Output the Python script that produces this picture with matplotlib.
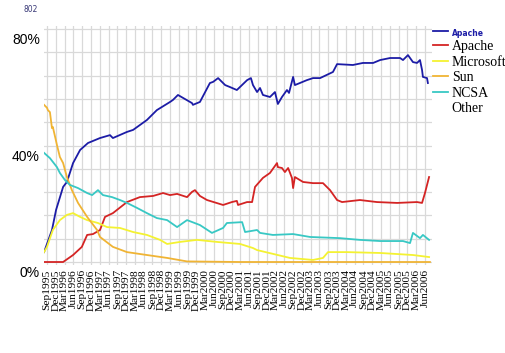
import matplotlib
matplotlib.use("Agg")
import matplotlib.pyplot as plt
from matplotlib.lines import Line2D

#======================================================
# 데이터 (x = Sep1995 부터의 개월 수, y = 점유율 %)
#======================================================
quarter_labels = ["Sep1995", "Dec1995", "Mar1996", "Jun1996", "Sep1996", "Dec1996",
                  "Mar1997", "Jun1997", "Sep1997", "Dec1997", "Mar1998", "Jun1998",
                  "Sep1998", "Dec1998", "Mar1999", "Jun1999", "Sep1999", "Dec1999",
                  "Mar2000", "Jun2000", "Sep2000", "Dec2000", "Mar2001", "Jun2001",
                  "Sep2001", "Dec2001", "Mar2002", "Jun2002", "Sep2002", "Dec2002",
                  "Mar2003", "Jun2003", "Sep2003", "Dec2003", "Mar2004", "Jun2004",
                  "Sep2004", "Dec2004", "Mar2005", "Jun2005", "Sep2005", "Dec2005",
                  "Mar2006", "Jun2006"]
quarter_pos = [3 * i for i in range(len(quarter_labels))]

blue_x = [-1, 1.7, 3.1, 5.5, 6.8, 8.9, 11.3, 14.0, 18.1, 21.5, 22.5, 27.3, 29.4, 34.1,
          37.5, 42.0, 43.0, 44.7, 49.5, 49.8, 52.2, 55.6, 56.7, 58.4, 60.8, 62.5, 64.8,
          68.3, 69.6, 70.3, 71.7, 72.7, 73.7, 76.1, 77.8, 78.8, 80.2, 81.9, 82.6, 84.0,
          84.6, 86.3, 88.7, 90.8, 93.2, 97.6, 99.0, 104.4, 107.8, 111.3, 113.7, 117.1,
          120.5, 121.5, 123.2, 124.9, 126.3, 127.3, 128.0, 128.3, 129.7, 130.0]
blue_y = [3.4, 11.0, 17.9, 25.8, 27.5, 34.0, 38.5, 40.9, 42.6, 43.6, 42.6, 44.7, 45.4, 48.8,
          52.2, 55.0, 55.7, 57.4, 54.6, 54.0, 55.0, 61.5, 61.9, 63.2, 60.8, 60.1, 59.1,
          62.5, 63.2, 60.8, 58.4, 59.8, 57.4, 56.7, 58.4, 54.3, 56.7, 59.1, 58.1, 63.6,
          60.8, 61.5, 62.5, 63.2, 63.2, 65.3, 68.0, 67.7, 68.4, 68.4, 69.4, 70.1,
          70.1, 69.4, 71.1, 68.7, 68.4, 69.4, 66.0, 63.6, 63.2, 61.5]

red_x = [-1, 5.5, 8.9, 11.9, 13.7, 15.7, 18.1, 19.8, 22.5, 27.3, 31.7, 36.2, 39.6, 42.0,
         44.4, 47.8, 49.5, 50.5, 52.2, 54.6, 60.1, 63.1, 64.8, 65.2, 68.3, 70.0, 71.0,
         73.7, 76.1, 78.5, 78.8, 80.2, 81.2, 82.3, 83.6, 84.0, 84.6, 87.4, 90.8, 94.2,
         96.6, 99.0, 100.7, 106.8, 112.6, 119.5, 126.3, 128.0, 129.0, 130.4]
red_y = [0, 0, 2.4, 5.2, 9.3, 9.6, 11.0, 15.5, 16.8, 20.6, 22.3, 22.7, 23.7, 23.0,
         23.4, 22.3, 24.1, 24.7, 22.7, 21.3, 19.6, 20.6, 21.0, 19.6, 20.6, 20.6, 25.8,
         28.9, 30.6, 34.0, 32.6, 32.3, 30.9, 32.3, 28.9, 25.4, 29.2, 27.5, 27.1, 27.1,
         24.7, 21.3, 20.6, 21.3, 20.6, 20.3, 20.6, 20.3, 23.7, 29.2]

yellow_x = [-1, 0, 2.0, 4.4, 6.8, 8.9, 11.3, 13.7, 17.4, 20.5, 24.9, 29.4, 34.1, 38.6,
            41.0, 45.4, 51.2, 58.0, 65.9, 70.3, 71.7, 82.9, 90.8, 94.2, 95.9, 102.4,
            113.7, 124.9, 130.4]
yellow_y = [3.4, 5.2, 11.0, 14.4, 16.2, 16.8, 15.5, 14.4, 13.4, 12.0, 11.7, 10.3, 9.3, 7.6,
            6.2, 6.9, 7.6, 6.9, 6.2, 4.8, 4.1, 1.4, 0.7, 1.4, 3.4, 3.4,
            3.1, 2.4, 1.7]

orange_x = [-1, 0, 0.3, 1.0, 1.7, 2.0, 3.4, 4.4, 5.5, 6.8, 8.5, 10.6, 13.7, 17.1, 18.1,
            22.5, 27.3, 34.1, 41.0, 47.8, 65.9, 130.7]
orange_y = [54.0, 53.0, 52.2, 51.5, 46.0, 46.4, 40.2, 36.1, 34.0, 29.2, 24.7, 20.3, 15.5,
            11.0, 8.6, 5.2, 3.4, 2.4, 1.4, 0.2, 0, 0]

cyan_x = [-1, 1.0, 3.4, 4.4, 6.1, 7.8, 10.6, 13.7, 15.4, 17.4, 19.1, 22.2, 24.9, 27.3,
          30.7, 34.1, 37.5, 41.0, 44.4, 47.8, 52.2, 56.3, 60.1, 61.4, 66.6, 67.6, 71.7,
          72.7, 77.1, 84.0, 89.8, 100.0, 106.8, 113.7, 121.5, 123.9, 124.9, 127.3, 128.3,
          130.4]
cyan_y = [37.5, 35.7, 32.6, 30.6, 28.2, 26.5, 25.4, 23.7, 23.0, 24.7, 23.0, 22.3, 21.3, 20.3,
          18.6, 16.8, 15.1, 14.4, 12.0, 14.4, 12.7, 10.0, 11.7, 13.4, 13.7, 10.3, 11.0,
          10.0, 9.3, 9.6, 8.6, 8.2, 7.6, 7.2, 7.2, 6.5, 10.0, 8.2, 9.3,
          7.6]

legend_labels = ["Apache", "Apache", "Microsoft", "Sun", "NCSA", "Other"]
y_labels = ["0%", "40%", "80%"]
y_label_vals = [0, 40, 80]
grid_y = [0, 8, 16, 24, 32, 40, 48, 56, 64, 72, 80]

#======================================================
# 그래프
#======================================================
fig = plt.figure(figsize=(5.06, 3.53), dpi=100)
ax = fig.add_axes([44 / 506, 88 / 353, 388 / 506, 239 / 353])

lw = 1.3
l_blue, = ax.plot(blue_x, blue_y, color="#1c1ca6", lw=lw)
l_red, = ax.plot(red_x, red_y, color="#d42424", lw=lw)
l_yel, = ax.plot(yellow_x, yellow_y, color="#f4f232", lw=lw)
l_org, = ax.plot(orange_x, orange_y, color="#f0b434", lw=lw)
l_cyn, = ax.plot(cyan_x, cyan_y, color="#38c8c4", lw=lw)

ax.set_xlim(-1.02, 131.4)
ax.set_ylim(-1.03, 81.1)
ax.set_xticks(quarter_pos)
ax.set_xticklabels(quarter_labels, rotation=90, family="Liberation Serif", fontsize=8.2)
ax.set_yticks(grid_y)
ax.set_yticklabels([])
ax.tick_params(length=0, pad=3)
for s in ax.spines.values():
    s.set_visible(False)
ax.grid(True, color="#d9d9d9", lw=0.9)
ax.set_axisbelow(True)

# y 라벨은 격자선보다 약간 아래에 있음
for v, t in zip(y_label_vals, y_labels):
    ax.annotate(t, xy=(0, v), xycoords=("axes fraction", "data"),
                xytext=(-3, -8), textcoords="offset points",
                ha="right", va="center", family="Liberation Sans", fontsize=10)

fig.text(24 / 506, 1 - 9 / 353, "802", fontsize=5.5, color="#3a3a78",
         family="DejaVu Sans", va="center")

handles = [l_blue, l_red, l_yel, l_org, l_cyn, Line2D([], [], color="none")]
leg = ax.legend(handles, legend_labels, loc="upper left",
                bbox_to_anchor=(433 / 506, 1 - 26 / 353), bbox_transform=fig.transFigure,
                frameon=False, handlelength=1.1, handletextpad=0.25, labelspacing=0.18,
                borderpad=0, borderaxespad=0, prop={"family": "Liberation Serif", "size": 10})
t0 = leg.get_texts()[0]
t0.set_color("#1c1ca6")
t0.set_fontsize(5.5)
t0.set_fontweight("bold")
t0.set_family("DejaVu Sans")

fig.savefig("out.png", dpi=100)
